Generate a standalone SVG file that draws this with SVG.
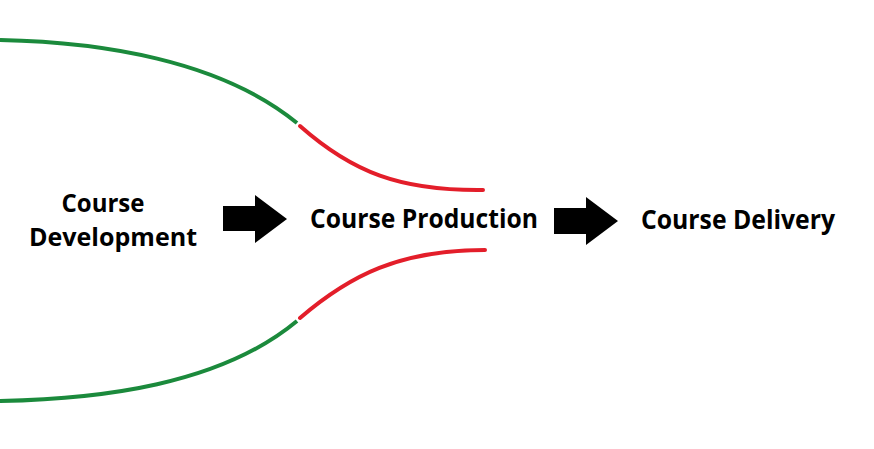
<svg xmlns="http://www.w3.org/2000/svg" width="874" height="449" viewBox="0 0 874 449">
<style>
.g{fill:none;stroke:#1b8a3c;stroke-width:4}
.r{fill:none;stroke:#e31e2a;stroke-width:4;stroke-linecap:round}
.t{font-family:"Open Sans","Liberation Sans",sans-serif;font-weight:bold;font-size:27px;fill:#000}
.s{font-size:24.8px}
.a{fill:#000}
</style>
<rect width="874" height="449" fill="#fff"/>
<g id="connectors">
<path class="g" d="M0,40 C100,42 220,60 297,123"/>
<path class="r" d="M300,126 C352,172 400,191 483,190"/>
<path class="g" d="M0,401 C100,399 220,385 297,321"/>
<path class="r" d="M300,318 C350,275 400,250 485,250"/>
<polygon class="a" points="223,206 255,206 255,195 287,219 255,243 255,231 223,231"/>
<polygon class="a" points="554,208 586,208 586,197 618,221 586,245 586,234 554,234"/>
</g>
<g id="course-development">
<text class="t s" x="103" y="212" text-anchor="middle" textLength="83" lengthAdjust="spacingAndGlyphs">Course</text>
<text class="t s" x="113" y="246" text-anchor="middle" textLength="168" lengthAdjust="spacingAndGlyphs">Development</text>
</g>
<g id="course-production">
<text class="t" x="310" y="228" textLength="228" lengthAdjust="spacingAndGlyphs">Course Production</text>
</g>
<g id="course-delivery">
<text class="t" x="641" y="229" textLength="194" lengthAdjust="spacingAndGlyphs">Course Delivery</text>
</g>
</svg>
